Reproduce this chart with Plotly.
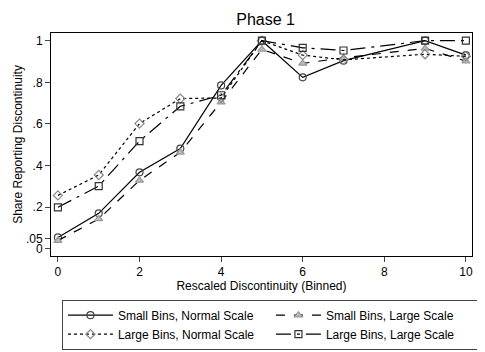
import plotly.graph_objects as go

x_bins = [0, 1, 2, 3, 4, 5, 6, 7, 9, 10]
small_normal = [0.055, 0.171, 0.368, 0.482, 0.785, 1.0, 0.824, 0.904, 1.0, 0.931]
small_large = [0.040, 0.144, 0.329, 0.464, 0.705, 0.958, 0.891, 0.918, 0.963, 0.902]
large_normal = [0.257, 0.355, 0.602, 0.722, 0.725, 1.0, 0.931, 0.908, 0.935, 0.925]
large_large = [0.200, 0.302, 0.518, 0.685, 0.738, 1.0, 0.966, 0.953, 1.0, 1.0]

y_tickvals = [0, 0.05, 0.2, 0.4, 0.6, 0.8, 1]
y_ticktext = ["0", ".05", ".2", ".4", ".6", ".8", "1"]
x_tickvals = [0, 2, 4, 6, 8, 10]

FONT = "Liberation Sans, Arial, Helvetica, sans-serif"

fig = go.Figure()
series = [
    ("Small Bins, Normal Scale", small_normal, "solid", "circle-open", "#444444", None),
    ("Small Bins, Large Scale", small_large, "dash", "triangle-up", "#999999", "#bbbbbb"),
    ("Large Bins, Normal Scale", large_normal, "dot", "diamond-open", "#888888", None),
    ("Large Bins, Large Scale", large_large, "longdashdot", "square-open", "#333333", None),
]
for name, vals, dash, sym, mcol, fill in series:
    marker = dict(symbol=sym, size=7, color=fill if fill else mcol,
                  line=dict(color=mcol, width=1.2))
    fig.add_trace(go.Scatter(
        x=x_bins, y=vals, name=name, mode="lines+markers",
        line=dict(color="black", width=1.2, dash=dash),
        marker=marker,
    ))

# page body has an 8px default margin; compensate so the figure lands like the reference
fig.update_layout(
    width=477, height=344,
    margin=dict(l=43, r=13, t=25, b=96, autoexpand=False),
    paper_bgcolor="white", plot_bgcolor="white",
    font=dict(family=FONT, size=12, color="black"),
    title=dict(text="Phase 1", x=0.54, xanchor="center", y=0.967, yanchor="middle",
               font=dict(size=16, family=FONT, color="black")),
    showlegend=True,
    legend=dict(
        orientation="h", x=0.026, y=-0.196, xanchor="left", yanchor="top",
        entrywidth=148, entrywidthmode="pixels",
        bordercolor="#444444", borderwidth=1,
        font=dict(size=12, family=FONT), itemwidth=45,
        tracegroupgap=0,
    ),
)
fig.update_xaxes(
    range=[-0.17, 10.15], tickvals=x_tickvals, ticks="outside", ticklen=5,
    showline=True, linecolor="black", linewidth=1, mirror=True, showgrid=False,
    zeroline=False, title=dict(text="Rescaled Discontinuity (Binned)", standoff=0,
                               font=dict(size=12)),
    tickfont=dict(size=12), automargin=False,
)
fig.update_yaxes(
    range=[-0.034, 1.037], tickvals=y_tickvals, ticktext=y_ticktext,
    ticks="outside", ticklen=5, tickangle=0,
    showline=True, linecolor="black", linewidth=1, mirror=True, showgrid=False,
    zeroline=False, title=dict(text="Share Reporting Discontinuity", standoff=0,
                               font=dict(size=12)),
    tickfont=dict(size=12), automargin=False,
)

fig.write_html("out.html")
